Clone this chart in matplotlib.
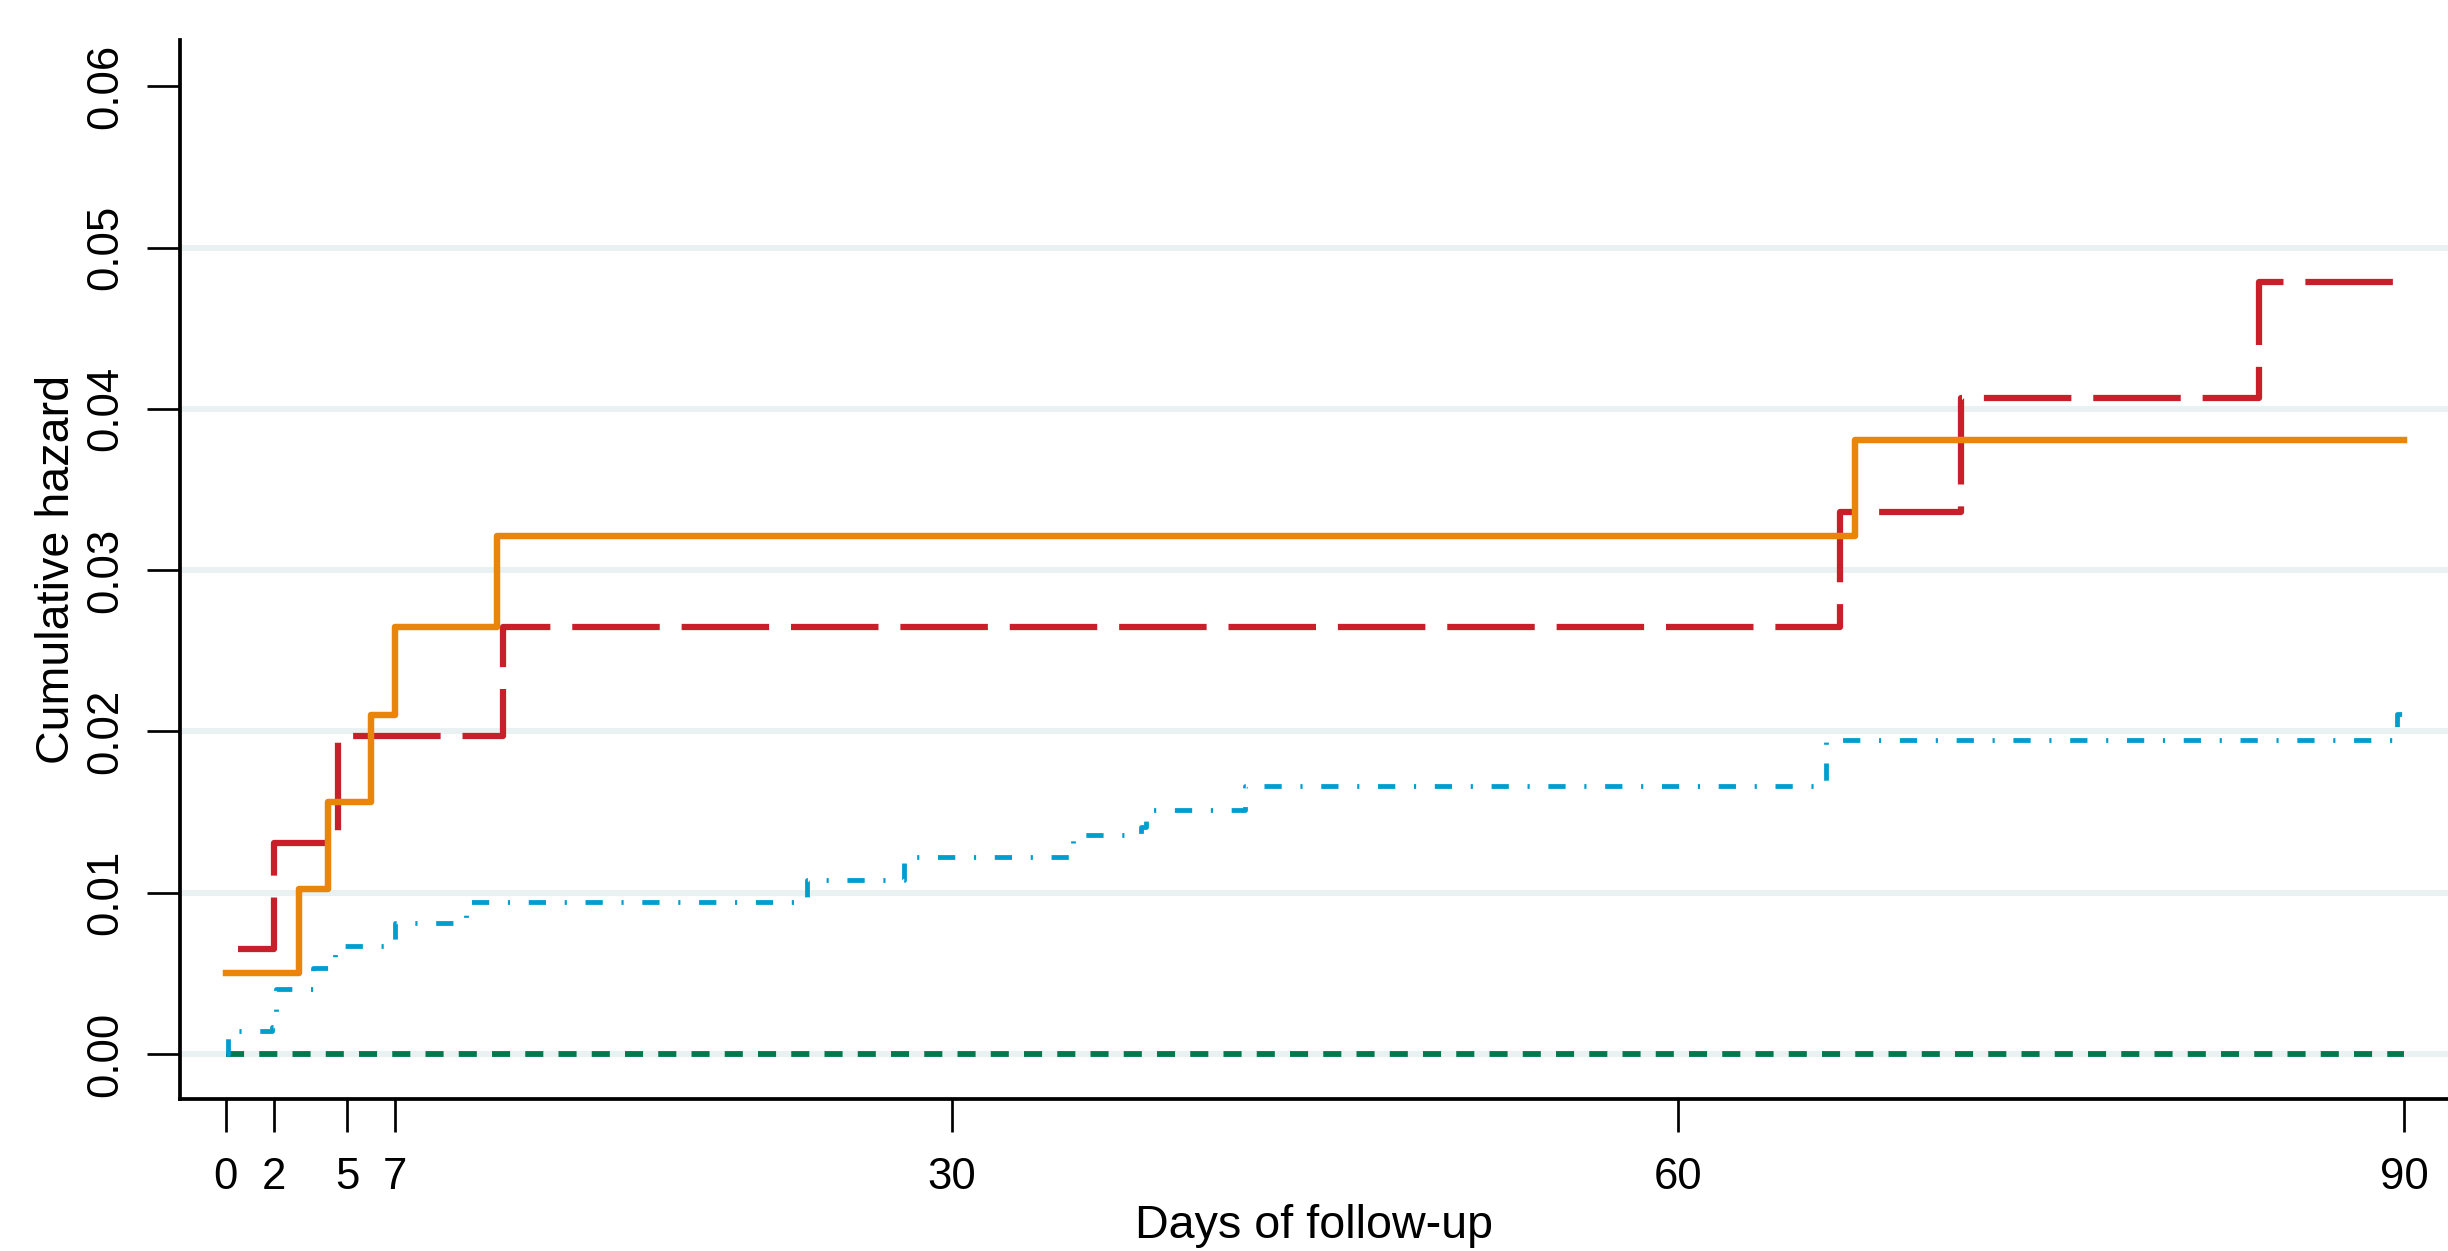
import matplotlib
matplotlib.use("Agg")
import matplotlib.pyplot as plt

# cumulative hazard step curves
days_red = [0.5, 2.0, 4.65, 11.45, 66.7, 71.7, 84.0, 90.0]
haz_red = [0.0065, 0.0131, 0.0197, 0.0265, 0.0336, 0.0407, 0.0479, 0.0479]

days_orange = [0.0, 3.0, 4.2, 6.0, 7.0, 11.2, 67.3, 90.0]
haz_orange = [0.0050, 0.0102, 0.0156, 0.0210, 0.0265, 0.0321, 0.0381, 0.0381]

days_blue = [0.0, 0.1, 1.9, 2.05, 3.6, 4.3, 4.5, 7.0, 9.9, 24.0, 28.0, 35.0,
             37.8, 38.0, 42.1, 65.9, 66.1, 89.7, 90.0]
haz_blue = [0.0, 0.0014, 0.0017, 0.0040, 0.0053, 0.0060, 0.0067, 0.0081, 0.0094,
            0.0108, 0.0122, 0.0136, 0.0141, 0.0151, 0.0166, 0.0169, 0.0195,
            0.0211, 0.0211]

days_green = [0.0, 90.0]
haz_green = [0.0, 0.0]

xticks = [0, 2, 5, 7, 30, 60, 90]
yticks = [0.00, 0.01, 0.02, 0.03, 0.04, 0.05, 0.06]
grid_levels = [0.00, 0.01, 0.02, 0.03, 0.04, 0.05]

plt.rcParams['font.family'] = ['Liberation Sans', 'DejaVu Sans']

fig = plt.figure(figsize=(8.16, 4.17), dpi=300)
ax = fig.add_axes([0.0735, 0.1218, 0.9265, 0.8465])

for g in grid_levels:
    ax.axhline(g, color='#EAF1F2', lw=1.45, zorder=0)

ax.step(days_green, haz_green, where='post', color='#007A4D', lw=1.4,
        dashes=(3.1, 2.6), zorder=2)
ax.step(days_blue, haz_blue, where='post', color='#009ECE', lw=1.15,
        dashes=(3.6, 3.9, 0.45, 3.9), zorder=3)
ax.step(days_red, haz_red, where='post', color='#C8202A', lw=1.5,
        dashes=(14.0, 3.5), zorder=4)
ax.step(days_orange, haz_orange, where='post', color='#E9850A', lw=1.55,
        solid_joinstyle='round', zorder=5)

ax.set_xlim(-1.9, 91.8)
ax.set_ylim(-0.00277, 0.0629)
ax.set_xticks(xticks)
ax.set_xticklabels([str(t) for t in xticks])
ax.set_yticks(yticks)
ax.set_yticklabels(['%.2f' % t for t in yticks], rotation=90, va='center')

ax.spines['top'].set_visible(False)
ax.spines['right'].set_visible(False)
ax.spines['left'].set_linewidth(0.9)
ax.spines['bottom'].set_linewidth(0.9)
ax.tick_params(axis='both', direction='out', length=8, width=0.65,
               labelsize=10.5, color='black')
ax.tick_params(axis='x', pad=6)
ax.tick_params(axis='y', pad=5)

ax.set_xlabel('Days of follow-up', fontsize=11.2, labelpad=1.5)
ax.set_ylabel('Cumulative hazard', fontsize=11.2, labelpad=1.5)

fig.savefig('out.png', dpi=300)
